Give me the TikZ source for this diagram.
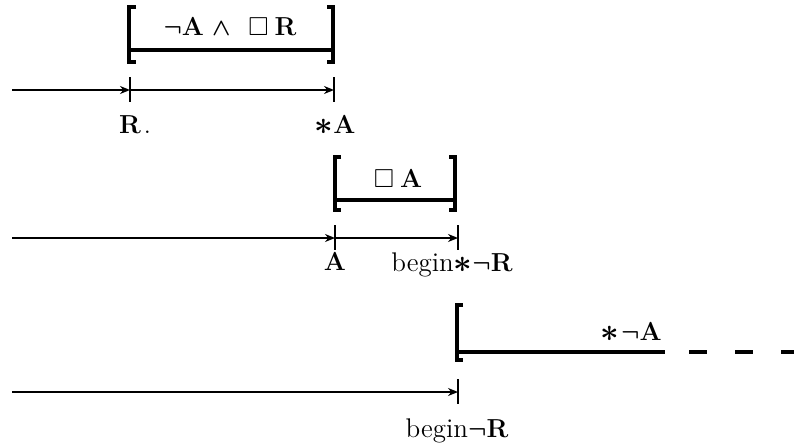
\documentclass[tikz,border=0pt]{standalone}
\usepackage{amsmath,amssymb}
\usepackage{tikz}
\usetikzlibrary{arrows.meta}

\newcommand{\bgn}{{\fontsize{13.5}{15}\mdseries\selectfont begin}}
\newcommand{\bast}{\raisebox{-0.5pt}{\scalebox{1.35}{$\ast$}}}

\begin{document}
\begin{tikzpicture}[x=0.5pt,y=-0.5pt,
    tl/.style={-{Stealth[length=5pt,width=4pt]},line width=0.8pt},
    tick/.style={line width=0.55pt},
    brk/.style={line width=1.8pt},
    lbl/.style={font=\fontsize{13}{15}\bfseries\boldmath\selectfont,inner sep=0pt,anchor=base}]
    \useasboundingbox (0,0) rectangle (794,445);

    % first row
    \coordinate (S1) at (12,90);
    \coordinate (R) at (130,90);
    \coordinate (SA) at (334,90);
    \path [tl] (S1) edge (R);
    \path [tl] (R) edge (SA);
    \draw[tick] ([yshift=6.5pt]R) -- ([yshift=-6pt]R);
    \draw[tick] ([yshift=6.5pt]SA) -- ([yshift=-6pt]SA);
    \node[lbl] (Rl) at (130,133) {R\rlap{\hspace{1.5pt}\mdseries.}};
    \node[lbl] (SAl) at (335,133) {\bast A};

    \draw[brk] (136,7) -- (129,7) -- (129,62) -- (136,62);
    \draw[brk] (327,7) -- (333,7) -- (333,62) -- (327,62);
    \draw[brk] (129,50) -- (333,50);
    \node[lbl] (F1) at (230,35) {$\neg$A\hspace{4pt}$\wedge$\hspace{9pt}$\Box$\hspace{3pt}R};

    % second row
    \coordinate (S2) at (12,238);
    \coordinate (A) at (335,238);
    \coordinate (BSR) at (458,238);
    \path [tl] (S2) edge (A);
    \path [tl] (A) edge (BSR);
    \draw[tick] ([yshift=6.5pt]A) -- ([yshift=-6pt]A);
    \draw[tick] ([yshift=6.5pt]BSR) -- ([yshift=-6pt]BSR);
    \node[lbl] (Al) at (335,270) {A};
    \node[lbl] (BSRl) at (452,271) {\bgn\bast$\neg$R};

    \draw[brk] (341,157) -- (335,157) -- (335,210) -- (341,210);
    \draw[brk] (449,157) -- (455,157) -- (455,210) -- (449,210);
    \draw[brk] (335,200) -- (455,200);
    \node[lbl] (F2) at (398,187) {$\Box$\hspace{3pt}A};

    % third row
    \coordinate (S3) at (12,392);
    \coordinate (BR) at (458,392);
    \path [tl] (S3) edge (BR);
    \draw[tick] ([yshift=6.5pt]BR) -- ([yshift=-6pt]BR);
    \node[lbl] (BRl) at (457,437) {\bgn$\neg$R};

    \draw[brk] (463,305) -- (457,305) -- (457,360) -- (463,360);
    \draw[brk] (457,352) -- (665,352);
    \draw[brk,dash pattern=on 9pt off 14pt] (689,352) -- (794,352);
    \node[lbl,anchor=base east] (F3) at (662,340) {\bast\hspace{1pt}$\neg$A};
\end{tikzpicture}
\end{document}
